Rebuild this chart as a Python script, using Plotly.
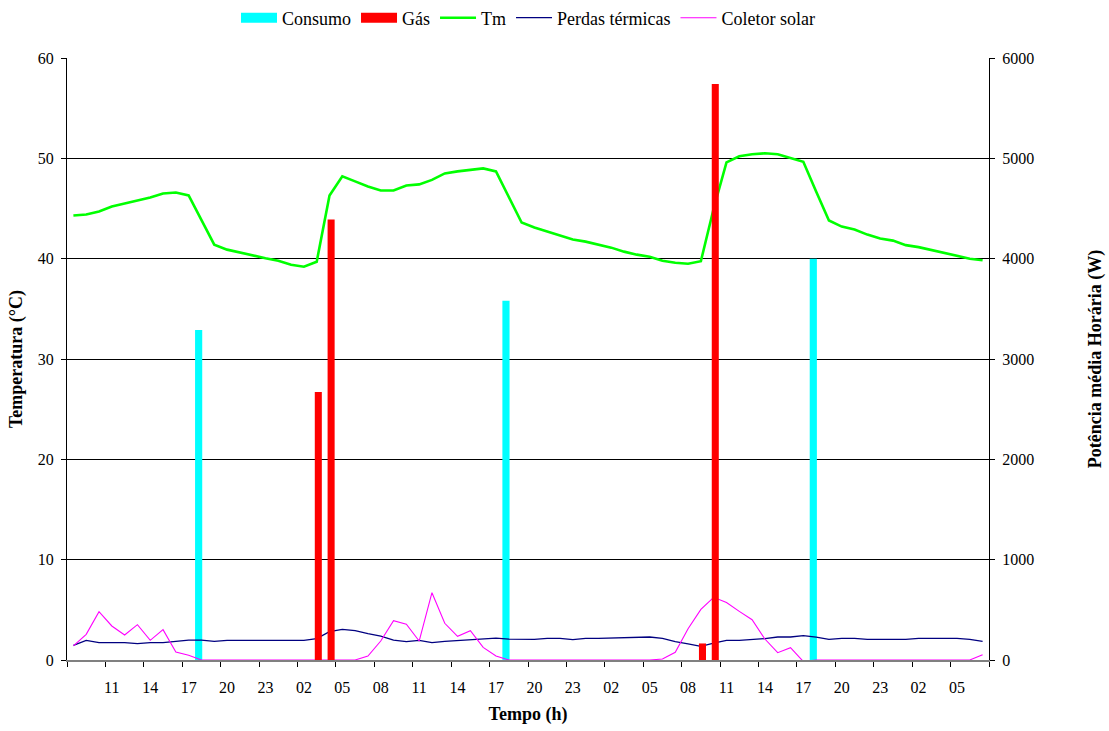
import plotly.graph_objects as go

# ---- data ----
hours = ["08", "09", "10", "11", "12", "13", "14", "15", "16", "17", "18", "19",
         "20", "21", "22", "23", "00", "01", "02", "03", "04", "05", "06", "07"] * 3

tm = [44.3, 44.4, 44.7, 45.2, 45.5, 45.8, 46.1, 46.5, 46.6, 46.3,
      43.9, 41.4, 40.9, 40.6, 40.35, 40.05, 39.8, 39.4, 39.2, 39.7,
      46.3, 48.2, 47.7, 47.2, 46.8, 46.8, 47.3, 47.4, 47.85, 48.5,
      48.7, 48.85, 49.0, 48.7, 46.2, 43.6, 43.1, 42.7, 42.3, 41.9,
      41.7, 41.4, 41.1, 40.7, 40.4, 40.2, 39.8, 39.6, 39.5, 39.75,
      45.0, 49.6, 50.2, 50.4, 50.5, 50.4, 50.0, 49.65, 46.7, 43.8,
      43.2, 42.9, 42.4, 42.0, 41.8, 41.35, 41.15, 40.85, 40.55, 40.3,
      40.0, 39.85]

perdas = [146, 196, 173, 173, 173, 163, 173, 173, 189, 199,
          199, 186, 196, 196, 196, 196, 196, 196, 196, 213,
          282, 306, 292, 262, 239, 199, 183, 196, 173, 186,
          196, 199, 209, 219, 209, 206, 206, 216, 216, 203,
          216, 216, 219, 229, 229, 229, 216, 183, 160, 136,
          169, 196, 196, 203, 213, 229, 229, 242, 229, 206,
          216, 216, 206, 206, 206, 206, 216, 216, 216, 216,
          206, 186]

coletor = [140, 256, 482, 339, 249, 352, 196, 302, 80, 47,
           0, 0, 0, 0, 0, 0, 0, 0, 0, 0,
           0, 0, 0, 40, 189, 392, 356, 189, 671, 366,
           236, 292, 126, 40, 0, 0, 0, 0, 0, 0,
           0, 0, 0, 0, 0, 0, 10, 77, 312, 505,
           625, 572, 485, 402, 209, 73, 123, -15, 0, 0,
           0, 0, 0, 0, 0, 0, 0, 0, 0, 0,
           0, 53]

consumo = [0, 0, 0, 0, 0, 0, 0, 0, 0, 0,
           3290, 0, 0, 0, 0, 0, 0, 0, 0, 0,
           0, 0, 0, 0, 0, 0, 0, 0, 0, 0,
           0, 0, 0, 0, 3580, 0, 0, 0, 0, 0,
           0, 0, 0, 0, 0, 0, 0, 0, 0, 0,
           0, 0, 0, 0, 0, 0, 0, 0, 4000, 0,
           0, 0, 0, 0, 0, 0, 0, 0, 0, 0,
           0, 0]

gas = [0, 0, 0, 0, 0, 0, 0, 0, 0, 0,
       0, 0, 0, 0, 0, 0, 0, 0, 0, 2670,
       4390, 0, 0, 0, 0, 0, 0, 0, 0, 0,
       0, 0, 0, 0, 0, 0, 0, 0, 0, 0,
       0, 0, 0, 0, 0, 0, 0, 0, 0, 165,
       5740, 0, 0, 0, 0, 0, 0, 0, 0, 0,
       0, 0, 0, 0, 0, 0, 0, 0, 0, 0,
       0, 0]

temp_ticks = [0, 10, 20, 30, 40, 50, 60]
power_ticks = [0, 1000, 2000, 3000, 4000, 5000, 6000]

# ---- figure ----
x = list(range(len(hours)))
FONT = "Liberation Serif"
CYAN, RED, GREEN, NAVY, MAGENTA = "#00FFFF", "#FF0000", "#00FF00", "#000080", "#FF00FF"

fig = go.Figure()

fig.add_trace(go.Scatter(x=x, y=tm, mode="lines", name="Tm",
                         line=dict(color=GREEN, width=2.6), yaxis="y", legendrank=3))
fig.add_trace(go.Bar(x=x, y=consumo, name="Consumo", marker=dict(color=CYAN, line=dict(width=0)),
                     offset=-0.5, width=0.56, yaxis="y2", showlegend=False))
fig.add_trace(go.Scatter(x=x, y=perdas, mode="lines", name="Perdas térmicas",
                         line=dict(color=NAVY, width=1.3), yaxis="y3", legendrank=4))
fig.add_trace(go.Scatter(x=x, y=coletor, mode="lines", name="Coletor solar",
                         line=dict(color=MAGENTA, width=1.1), yaxis="y3", legendrank=5))
fig.add_trace(go.Bar(x=x, y=gas, name="Gás", marker=dict(color=RED, line=dict(width=0)),
                     offset=-0.15, width=0.55, yaxis="y4", showlegend=False))
# legend entries for the bar series
fig.add_trace(go.Scatter(x=[None], y=[None], mode="lines", name="Consumo",
                         line=dict(color=CYAN, width=14), legendrank=1))
fig.add_trace(go.Scatter(x=[None], y=[None], mode="lines", name="Gás",
                         line=dict(color=RED, width=14), legendrank=2))

n = len(hours)
fig.update_layout(
    width=1109, height=731,
    margin=dict(l=67, r=120, t=58, b=71, autoexpand=False),
    paper_bgcolor="white", plot_bgcolor="white",
    font=dict(family=FONT, color="black", size=16),
    barmode="overlay",
    showlegend=True,
    legend=dict(orientation="h", x=0.5, xanchor="center", xref="paper",
                y=1 - 18 / 731, yanchor="middle", yref="container",
                font=dict(family=FONT, size=18, color="black"), bgcolor="rgba(0,0,0,0)",
                itemwidth=36, traceorder="normal"),
    xaxis=dict(
        range=[-0.5, n - 0.5],
        tickmode="array", tickvals=x[3::3], ticktext=hours[3::3],
        ticks="", ticklabelstandoff=12,
        tickfont=dict(size=16),
        showgrid=False, zeroline=False,
        showline=True, linecolor="#808080", linewidth=1.5,
        minor=dict(tickmode="array", tickvals=[i - 0.5 for i in range(0, n + 1, 3)],
                   ticks="outside", ticklen=5, tickcolor="black", tickwidth=1, showgrid=False),
        title=dict(text="<b>Tempo (h)</b>", font=dict(size=18), standoff=12),
    ),
    yaxis=dict(
        range=[0, 60], tickmode="array", tickvals=temp_ticks,
        ticks="outside", ticklen=5, tickcolor="black", ticklabelstandoff=4,
        showline=True, linecolor="black", linewidth=1,
        showgrid=True, gridcolor="black", gridwidth=1, zeroline=False,
        tickfont=dict(size=16),
        title=dict(text="<b>Temperatura (°C)</b>", font=dict(size=18), standoff=10),
    ),
    yaxis2=dict(range=[0, 6000], overlaying="y", visible=False),
    yaxis3=dict(
        range=[0, 6000], overlaying="y", side="right", anchor="x",
        tickmode="array", tickvals=power_ticks,
        ticks="outside", ticklen=5, tickcolor="black", ticklabelstandoff=4,
        showline=True, linecolor="black", linewidth=1,
        showgrid=False, zeroline=False,
        tickfont=dict(size=16),
        title=dict(text="<b>Potência média Horária (W)</b>", font=dict(size=18), standoff=55),
    ),
    yaxis4=dict(range=[0, 6000], overlaying="y", visible=False),
)

fig.write_html("out.html", config={"displayModeBar": False},
               post_script="document.body.style.margin='0';")
